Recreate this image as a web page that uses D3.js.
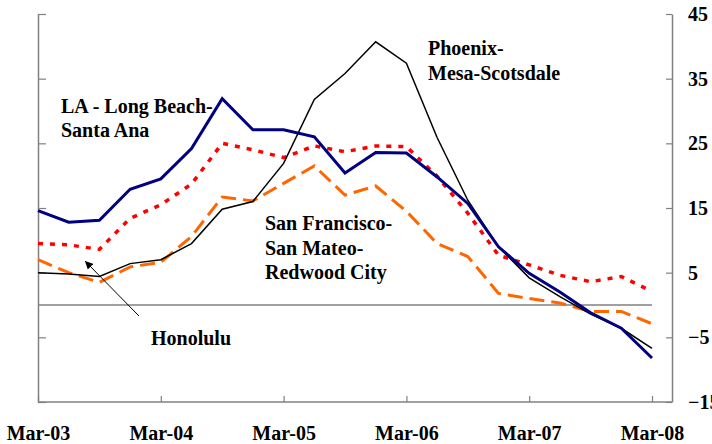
<!DOCTYPE html>
<html>
<head>
<meta charset="utf-8">
<script src="https://cdn.jsdelivr.net/npm/d3@7"></script>
<style>
  body { margin: 0; background: #fff; }
  text { font-family: "Liberation Serif", "Times New Roman", serif; font-weight: bold; }
</style>
</head>
<body>
<div id="chart"></div>
<script>
// year-over-year % change, quarterly Mar-03 .. Mar-08
var quarters = d3.range(0, 21);
var yearLabels = ["Mar-03", "Mar-04", "Mar-05", "Mar-06", "Mar-07", "Mar-08"];
var yTicks = [45, 35, 25, 15, 5, -5, -15];

var laLongBeach = [14.6, 12.8, 13.1, 17.9, 19.5, 24.2, 31.9, 27.1, 27.1, 26.0, 20.4,
                   23.6, 23.5, 19.8, 15.7, 9.0, 4.9, 2.0, -1.2, -3.6, -8.2];
var phoenix = [5.0, 4.8, 4.4, 6.4, 7.0, 9.5, 14.8, 16.0, 21.9, 31.8, 35.8,
               40.7, 37.4, 25.9, 16.2, 9.0, 4.2, 1.3, -1.4, -3.6, -6.7];
var honolulu = [9.5, 9.3, 8.6, 13.4, 15.5, 18.7, 25.0, 24.0, 22.8, 24.6, 23.7,
                24.6, 24.5, 19.9, 14.2, 7.7, 6.2, 4.6, 3.6, 4.4, 2.1];
var sanFrancisco = [7.0, 5.0, 3.5, 5.9, 6.6, 10.6, 16.7, 16.1, 18.8, 21.5, 17.0,
                    18.4, 14.5, 9.5, 7.5, 1.8, 1.0, 0.3, -1.0, -1.0, -2.9];

(function(){
    var width = 712,
        height = 444;

    var svg = d3.select("#chart")
      .append("svg")
      .attr("width", width)
      .attr("height", height)

    var x = d3.scaleLinear().domain([0, 20]).range([38, 652])
    var y = d3.scaleLinear().domain([-15, 45]).range([402, 14])
    var rightX = 672

    var axisColor = "#808080"

    // left axis, ticks only, pointing inward
    var left = svg.append("g")
      .attr("transform", "translate(" + x(0) + ",0)")
      .call(d3.axisLeft(y).tickValues(yTicks).tickSize(-8).tickSizeOuter(0).tickFormat(""))

    // right axis with labels
    var right = svg.append("g")
      .attr("transform", "translate(" + rightX + ",0)")
      .call(d3.axisRight(y).tickValues(yTicks).tickSize(-6).tickSizeOuter(0).tickPadding(16))

    right.selectAll("text")
      .attr("font-size", 20)
      .attr("fill", "#000")
      .style("font-family", "'Liberation Serif', serif")
      .style("font-weight", "bold")

    // bottom axis
    var bottom = svg.append("g")
      .attr("transform", "translate(0," + y(-15) + ")")
      .call(d3.axisBottom(x).tickValues([0, 4, 8, 12, 16, 20]).tickSize(-6).tickSizeOuter(0).tickPadding(24)
        .tickFormat(function(d, i){ return yearLabels[i] }))

    bottom.select(".domain").remove()
    bottom.append("line")
      .attr("x1", x(0))
      .attr("x2", rightX)
      .attr("stroke", axisColor)
      .attr("stroke-width", 1.5)

    bottom.selectAll("text")
      .attr("font-size", 20)
      .attr("fill", "#000")
      .style("font-family", "'Liberation Serif', serif")
      .style("font-weight", "bold")

    svg.selectAll(".domain").attr("stroke", axisColor).attr("stroke-width", 1.5)
    svg.selectAll(".tick line").attr("stroke", axisColor).attr("stroke-width", 1.2)

    // zero line
    svg.append("line")
      .attr("x1", x(0))
      .attr("x2", x(20))
      .attr("y1", y(0))
      .attr("y2", y(0))
      .attr("stroke", axisColor)
      .attr("stroke-width", 1.5)

    var line = d3.line()
      .x(function(d, i){ return x(quarters[i]) })
      .y(function(d){ return y(d) })

    var series = [
      {values: sanFrancisco, color: "#FF6600", w: 3, dash: "15,7"},
      {values: honolulu, color: "#FF0000", w: 3.5, dash: "5,7"},
      {values: phoenix, color: "#000000", w: 1.5, dash: null},
      {values: laLongBeach, color: "#000080", w: 3, dash: null}
    ]

    svg.selectAll(".series")
      .data(series)
      .enter().append("path")
      .attr("class", "series")
      .attr("d", function(d){ return line(d.values) })
      .attr("fill", "none")
      .attr("stroke", function(d){ return d.color })
      .attr("stroke-width", function(d){ return d.w })
      .attr("stroke-dasharray", function(d){ return d.dash })
      .attr("stroke-linejoin", "miter")

    // labels
    var labels = [
      {lines: ["LA - Long Beach-", "Santa Ana"], x: 61, y: 112.5},
      {lines: ["Phoenix-", "Mesa-Scotsdale"], x: 428, y: 55},
      {lines: ["San Francisco-", "San Mateo-", "Redwood City"], x: 265, y: 230},
      {lines: ["Honolulu"], x: 151, y: 345}
    ]

    labels.forEach(function(l){
      var t = svg.append("text")
        .attr("x", l.x)
        .attr("y", l.y)
        .attr("font-size", 20)
        .attr("fill", "#000")
      l.lines.forEach(function(s, i){
        t.append("tspan")
          .attr("x", l.x)
          .attr("dy", i == 0 ? 0 : 24.5)
          .text(s)
      })
    })

    // arrow for Honolulu
    svg.append("defs").append("marker")
      .attr("id", "arrow")
      .attr("viewBox", "0 0 10 10")
      .attr("refX", 10)
      .attr("refY", 5)
      .attr("markerWidth", 8)
      .attr("markerHeight", 8)
      .attr("markerUnits", "userSpaceOnUse")
      .attr("orient", "auto")
      .append("path")
      .attr("d", "M0,0L10,5L0,10z")
      .attr("fill", "#000")

    svg.append("line")
      .attr("x1", 139)
      .attr("y1", 316)
      .attr("x2", 85)
      .attr("y2", 261)
      .attr("stroke", "#000")
      .attr("stroke-width", 1)
      .attr("marker-end", "url(#arrow)")

})();
</script>
</body>
</html>
